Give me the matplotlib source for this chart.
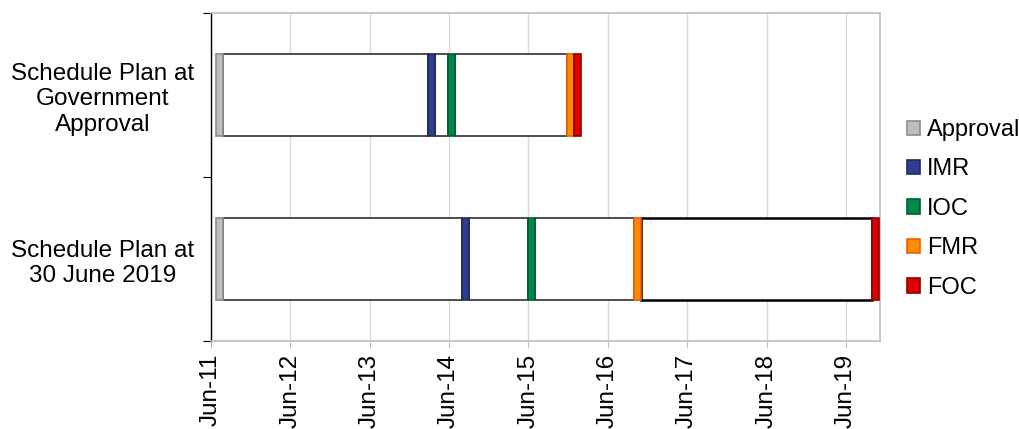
import numpy as np
import matplotlib.pyplot as plt
from matplotlib.patches import Patch

plt.rcParams['font.family'] = ['Liberation Sans', 'DejaVu Sans']

# years after Jun-2011
plans = ['Schedule Plan at\nGovernment\nApproval', 'Schedule Plan at\n30 June 2019']
milestones = ['Approval', 'IMR', 'IOC', 'FMR', 'FOC']
starts_gov = [0.063, 2.733, 2.985, 4.484, 4.572]
starts_2019 = [0.063, 3.161, 3.992, 5.327, 8.325]
mwidth = 0.088
tick_labels = ['Jun-11', 'Jun-12', 'Jun-13', 'Jun-14', 'Jun-15', 'Jun-16', 'Jun-17', 'Jun-18', 'Jun-19']

fills = ['#bfbfbf', '#2e3f8f', '#00874a', '#ff8c00', '#e00000']
edges = ['#8c8c8c', '#1f2a60', '#006035', '#e8600a', '#8b0000']

fig = plt.figure(figsize=(10.19, 4.29), dpi=100)
ax = fig.add_axes([0.207, 0.205, 0.6566, 0.7647])

for i, st in enumerate([starts_gov, starts_2019]):
    st = np.array(st)
    # white gaps between milestones
    for k in range(len(st) - 1):
        g0 = st[k] + mwidth
        g1 = st[k + 1]
        if g1 - g0 <= 0.001:
            continue
        lw = 1.8 if (i == 1 and k == 3) else 1.3
        ec = 'black' if (i == 1 and k == 3) else '#404040'
        ax.barh(i, g1 - g0, left=g0, height=0.5, color='white', edgecolor=ec, linewidth=lw, zorder=3)
    for k in range(len(st)):
        ax.barh(i, mwidth, left=st[k], height=0.5, color=fills[k], edgecolor=edges[k], linewidth=1.2, zorder=4)

ax.set_ylim(1.5, -0.5)
ax.set_xlim(0, 8.43)
ax.set_yticks([-0.5, 0.5, 1.5])
ax.set_yticklabels([])
ax.set_yticks([0, 1], minor=True)
ax.set_yticklabels(plans, minor=True, fontsize=17.5, ha='center', linespacing=1.2)
ax.tick_params(axis='y', which='minor', length=0, pad=78)
ax.tick_params(axis='y', which='major', length=6, direction='out', color='black')

ax.set_xticks(np.arange(len(tick_labels)))
ax.set_xticklabels(tick_labels, rotation=90, fontsize=17.5)
ax.tick_params(axis='x', length=5, color='#bfbfbf', pad=4)
ax.grid(axis='x', color='#d9d9d9', linewidth=1, zorder=0)
ax.set_axisbelow(True)

for s in ['top', 'right', 'bottom']:
    ax.spines[s].set_color('#bfbfbf')
    ax.spines[s].set_linewidth(1.2)
ax.spines['left'].set_color('black')
ax.spines['left'].set_linewidth(1)

handles = [Patch(facecolor=fills[k], edgecolor=edges[k], linewidth=1.2, label=milestones[k]) for k in range(len(milestones))]
fig.legend(handles=handles, loc='center left', bbox_to_anchor=(0.89, 0.513), frameon=False,
           fontsize=17, handlelength=0.55, handleheight=0.55, handletextpad=0.3, labelspacing=0.74,
           borderpad=0, borderaxespad=0)

fig.savefig('out.png', dpi=100)
